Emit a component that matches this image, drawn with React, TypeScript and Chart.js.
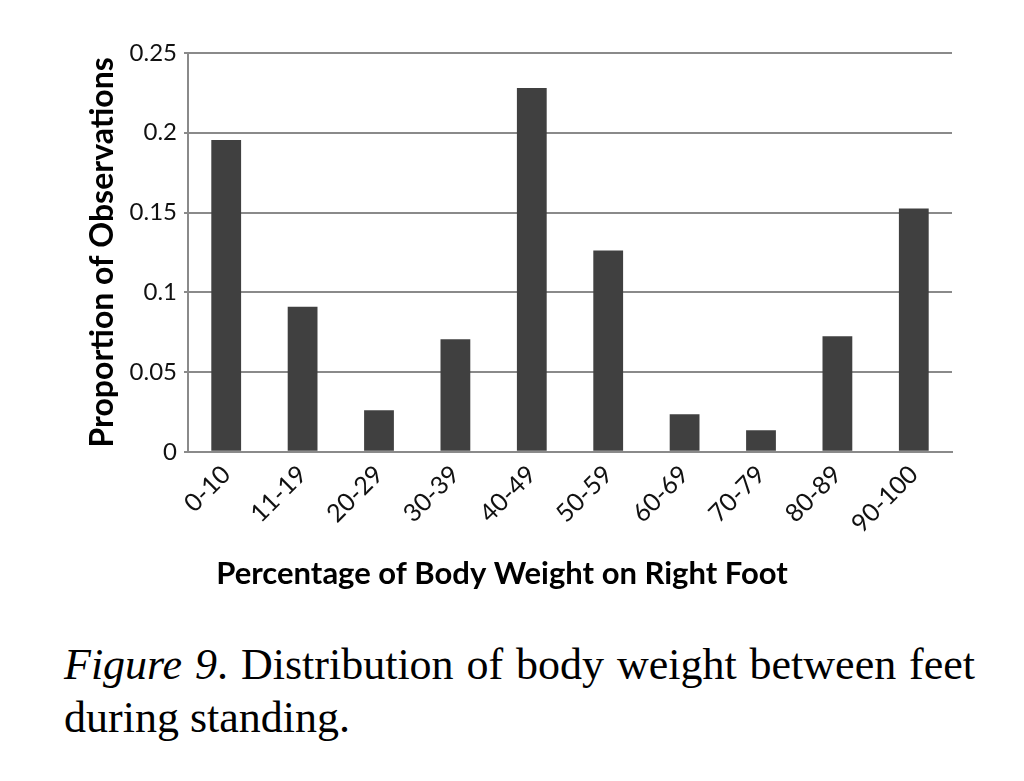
import React, { useEffect, useRef } from "react";
import { Chart, registerables } from "chart.js";

Chart.register(...registerables);

const categories = ["0-10", "11-19", "20-29", "30-39", "40-49", "50-59", "60-69", "70-79", "80-89", "90-100"];
const proportions = [0.1955, 0.091, 0.026, 0.0705, 0.228, 0.1262, 0.0235, 0.0135, 0.0725, 0.1525];
const yTicks = [0, 0.05, 0.1, 0.15, 0.2, 0.25];
const yTitle = "Proportion of Observations";
const xTitle = "Percentage of Body Weight on Right Foot";

export default function App() {
  const ref = useRef<HTMLCanvasElement>(null);
  useEffect(() => {
    if (!ref.current) return;
    const chart = new Chart(ref.current, {
      type: "bar",
      data: {
        labels: categories,
        datasets: [
          {
            data: proportions,
            backgroundColor: "#404040",
            borderWidth: 0,
            barPercentage: 0.39,
            categoryPercentage: 1,
            yAxisID: "y",
          },
        ],
      },
      options: {
        animation: false,
        responsive: false,
        maintainAspectRatio: false,
        layout: { padding: { left: 0, right: 20, top: 45, bottom: 0 } },
        plugins: {
          legend: { display: false },
          tooltip: { enabled: false },
          title: {
            display: true,
            position: "bottom",
            text: xTitle,
            color: "#000",
            font: { family: "Lato", size: 31, weight: "bold" },
            padding: { top: 4, bottom: 45 },
          },
        },
        scales: {
          x: {
            grid: { display: false, drawTicks: false },
            border: { display: true, color: "#8a8a8a", width: 2 },
            ticks: {
              autoSkip: false,
              maxRotation: 45,
              minRotation: 45,
              padding: 8,
              color: "#111",
              font: { family: "Lato", size: 25 },
            },
            afterFit: (s: any) => {
              s.height = 100;
            },
          },
          y: {
            min: 0,
            max: 0.25,
            afterBuildTicks: (s: any) => {
              s.ticks = yTicks.map((v) => ({ value: v }));
            },
            grid: { color: "#8a8a8a", lineWidth: 2, drawTicks: true, tickLength: 4 },
            border: { display: true, color: "#8a8a8a", width: 2 },
            ticks: {
              padding: 7,
              color: "#111",
              font: { family: "Lato", size: 24 },
              callback: (v: any) => String(Number(v)),
            },
            title: {
              display: true,
              text: yTitle,
              color: "#000",
              font: { family: "Lato", size: 32, weight: "bold" },
              padding: { top: 75, bottom: 0 },
            },
            afterFit: (s: any) => {
              s.width = 180;
            },
          },
          yRight: {
            position: "right",
            display: true,
            min: 0,
            max: 0.25,
            grid: { display: false, drawTicks: false },
            border: { display: false },
            ticks: { display: false },
            afterFit: (s: any) => {
              s.width = 44;
            },
          },
        },
      },
    });
    return () => chart.destroy();
  }, []);

  return (
    <div>
      <canvas ref={ref} width={1008} height={630} style={{ display: "block", width: 1008, height: 630 }} />
      <div
        style={{
          marginLeft: 56,
          width: 911,
          fontFamily: "'Liberation Serif', 'Times New Roman', serif",
          fontSize: 44,
          lineHeight: "53px",
          color: "#000",
        }}
      >
        <div style={{ textAlign: "justify", textAlignLast: "justify", whiteSpace: "nowrap" }}>
          <i>Figure 9</i>. Distribution of body weight between feet
        </div>
        <div>during standing.</div>
      </div>
    </div>
  );
}
